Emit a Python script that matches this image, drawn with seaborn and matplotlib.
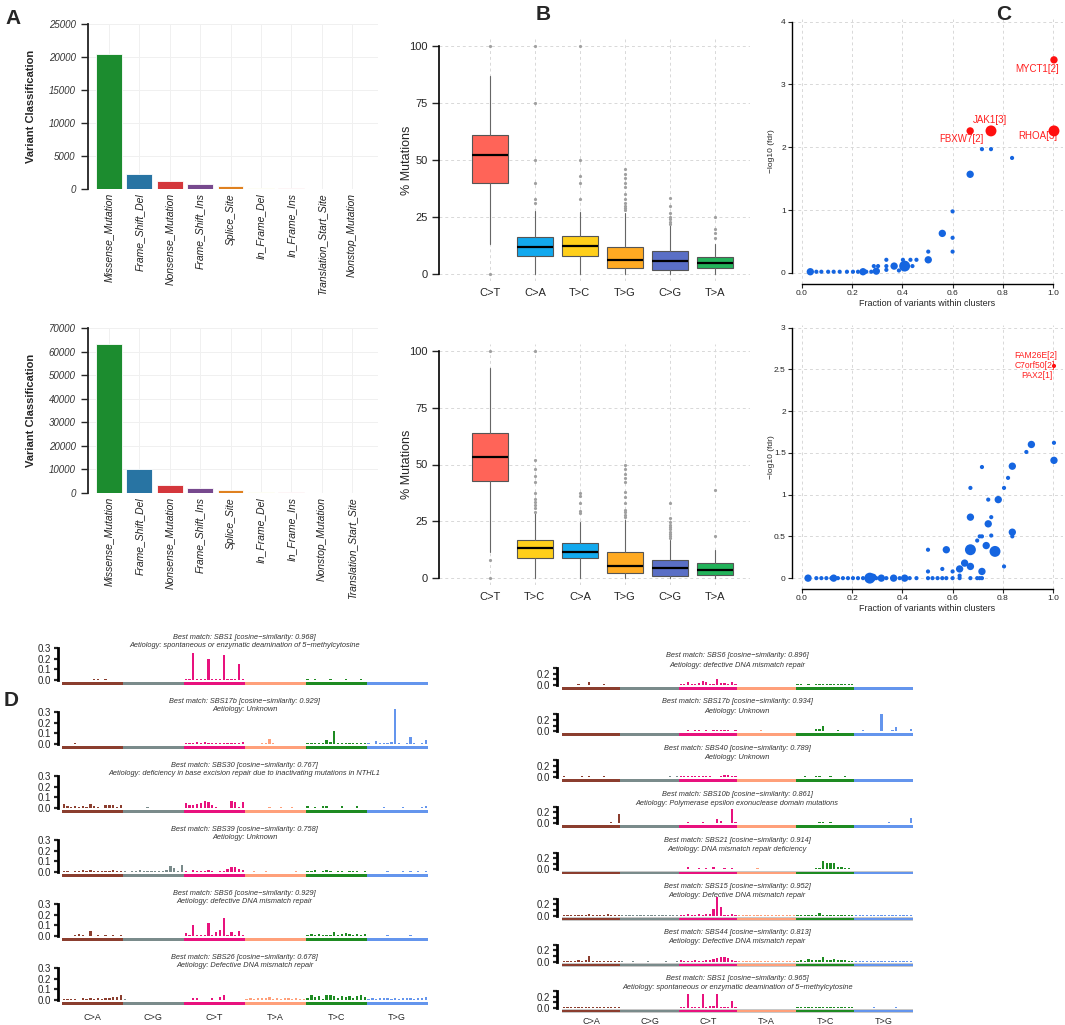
import numpy as np
import matplotlib
matplotlib.use("Agg")
import matplotlib.pyplot as plt
import seaborn as sns

W, H = 1065, 1025

# ---------------- Panel A : variant classification counts ----------------
var_names_top = ["Missense_Mutation", "Frame_Shift_Del", "Nonsense_Mutation", "Frame_Shift_Ins",
                 "Splice_Site", "In_Frame_Del", "In_Frame_Ins", "Translation_Start_Site", "Nonstop_Mutation"]
var_counts_top = [20400, 2300, 1150, 720, 420, 90, 140, 60, 25]
var_colors_top = ["#0a9e23", "#1379b8", "#ee1d23", "#7b3d99", "#ff8200", "#ffff70", "#f88090", "#f9cbb8", "#ece4e4"]

var_names_bot = ["Missense_Mutation", "Frame_Shift_Del", "Nonsense_Mutation", "Frame_Shift_Ins",
                 "Splice_Site", "In_Frame_Del", "In_Frame_Ins", "Nonstop_Mutation", "Translation_Start_Site"]
var_counts_bot = [63200, 10200, 3300, 2200, 1300, 320, 260, 120, 100]
var_colors_bot = ["#0a9e23", "#1379b8", "#ee1d23", "#7b3d99", "#ff8200", "#ffff70", "#f88090", "#c8dcef", "#f4a0a0"]

# ---------------- Panel B : mutation spectra boxplots ----------------
snv_top = ["C>T", "C>A", "T>C", "T>G", "C>G", "T>A"]
q1_top = [40, 7.9, 8, 2.8, 1.8, 2.5]
med_top = [52, 11.7, 12.3, 6.4, 5.7, 5.1]
q3_top = [61, 16.4, 16.7, 12, 10.1, 7.6]
lo_top = [13, 0, 0, 0, 0, 0]
hi_top = [87, 27.6, 27.3, 27, 21.5, 13]
fl_top = [[0, 100],
          [31, 33, 40, 50, 75, 100],
          [33, 40, 43, 50, 100],
          [28, 29, 30, 31, 33, 35, 38, 40, 42, 44, 46],
          [22, 23, 24, 25, 26.6, 29.8, 33.2],
          [16, 18, 19.7, 25]]
box_colors_top = ["#ff6458", "#12a9ee", "#ffcf1a", "#ffaa22", "#5a6fc6", "#22b35a"]

snv_bot = ["C>T", "T>C", "C>A", "T>G", "C>G", "T>A"]
q1_bot = [42.7, 8.7, 8.7, 2.3, 0.9, 1.6]
med_bot = [53.2, 13.1, 11.6, 5.3, 4.3, 3.8]
q3_bot = [64, 17, 15.3, 11.6, 7.9, 6.5]
lo_bot = [11.6, 0, 0, 0, 0, 0]
hi_bot = [92.4, 28.5, 24.8, 25.6, 16.7, 12.6]
fl_bot = [[0, 8.2, 100],
          [29.2, 30.7, 32.2, 33.6, 34.8, 37.3, 42.4, 45, 48, 52, 100],
          [28.6, 29.6, 32.9, 36, 37.3],
          [27, 28, 29, 30, 32.9, 35.8, 38, 42.4, 44, 46, 48, 50],
          [17.6, 18.5, 19.5, 20.5, 21.5, 22.5, 23.5, 24.5, 26.4, 33.2],
          [18.5, 38.8]]
box_colors_bot = ["#ff6458", "#ffcf1a", "#12a9ee", "#ffaa22", "#5a6fc6", "#22b35a"]

# ---------------- Panel C : oncodrive clusters ----------------
cx_top = [0.033, 0.057, 0.077, 0.104, 0.126, 0.150, 0.179, 0.203, 0.223, 0.243, 0.256, 0.276, 0.296,
          0.286, 0.303, 0.336, 0.336, 0.336, 0.367, 0.386, 0.409, 0.402, 0.432, 0.456, 0.44,
          0.503, 0.503, 0.559, 0.60, 0.60, 0.60, 0.67, 0.717, 0.753, 0.837]
cy_top = [0.02, 0.02, 0.02, 0.02, 0.02, 0.02, 0.02, 0.02, 0.02, 0.02, 0.02, 0.02, 0.03,
          0.11, 0.11, 0.21, 0.11, 0.05, 0.11, 0.04, 0.11, 0.21, 0.21, 0.21, 0.11,
          0.21, 0.34, 0.63, 0.34, 0.56, 0.98, 1.57, 1.97, 1.97, 1.83]
cs_top = [2, 1, 1, 1, 1, 1, 1, 1, 1, 2, 1, 1, 2,
          1, 1, 1, 1, 1, 2, 1, 3, 1, 1, 1, 1,
          2, 1, 2, 1, 1, 1, 2, 1, 1, 1]
hx_top = [0.67, 0.753, 1.004, 1.004]
hy_top = [2.26, 2.26, 3.39, 2.26]
hs_top = [2, 3, 2, 3]
hit_labels_top = ["FBXW7[2]", "JAK1[3]", "MYCT1[2]", "RHOA[3]"]
lab_x_top = [0.635, 0.748, 0.937, 0.94]
lab_y_top = [2.13, 2.44, 3.24, 2.18]

cx_bot = [0.024, 0.057, 0.077, 0.097, 0.117, 0.126, 0.143, 0.163, 0.183, 0.203, 0.223, 0.243, 0.27, 0.283,
          0.296, 0.316, 0.336, 0.365, 0.389, 0.409, 0.429, 0.456, 0.502, 0.502, 0.502, 0.52, 0.54, 0.559,
          0.575, 0.559, 0.575, 0.6, 0.6, 0.628, 0.628, 0.628, 0.648, 0.671, 0.671, 0.671, 0.671, 0.671,
          0.698, 0.708, 0.717, 0.698, 0.708, 0.717, 0.734, 0.717, 0.717, 0.742, 0.742, 0.754, 0.754,
          0.769, 0.782, 0.805, 0.805, 0.821, 0.838, 0.838, 0.838, 0.894, 0.914, 1.004, 1.004]
cy_bot = [0, 0, 0, 0, 0, 0, 0, 0, 0, 0, 0, 0, 0, 0.01,
          0, 0, 0, 0, 0, 0, 0, 0, 0, 0.08, 0.34, 0, 0, 0,
          0, 0.11, 0.34, 0.08, 0, 0, 0.03, 0.11, 0.18, 0.14, 0.34, 0.73, 1.08, 0,
          0, 0, 0, 0.45, 0.5, 0.5, 0.39, 0.08, 1.33, 0.65, 0.94, 0.73, 0.51,
          0.32, 0.94, 1.08, 0.14, 1.2, 1.34, 0.55, 0.5, 1.51, 1.6, 1.62, 1.41]
cs_bot = [2, 1, 1, 1, 1, 2, 1, 1, 1, 1, 1, 1, 3, 2,
          1, 2, 1, 2, 1, 2, 1, 1, 1, 1, 1, 1, 1, 1,
          1, 1, 2, 1, 1, 1, 1, 2, 2, 2, 3, 2, 1, 1,
          1, 1, 1, 1, 1, 1, 2, 2, 1, 2, 1, 1, 1,
          3, 2, 1, 1, 1, 2, 2, 1, 1, 2, 1, 2]
hx_bot = [1.004]
hy_bot = [2.54]
hs_bot = [1]
hit_labels_bot = ["FAM26E[2]", "C7orf50[2]", "PAX2[1]"]
lab_x_bot = [0.931, 0.927, 0.934]
lab_y_bot = [2.67, 2.54, 2.42]

# ---------------- Panel D : signatures (values x 1000) ----------------
sbs_classes = ["C>A", "C>G", "C>T", "T>A", "T>C", "T>G"]
sbs_colors = ["#8b3e2f", "#7a8b8b", "#e8127e", "#ffa07a", "#1e8b22", "#6495ed"]

left_titles = ["Best match: SBS1 [cosine\u2212similarity: 0.968]", "Best match: SBS17b [cosine\u2212similarity: 0.929]",
               "Best match: SBS30 [cosine\u2212similarity: 0.767]", "Best match: SBS39 [cosine\u2212similarity: 0.758]",
               "Best match: SBS6 [cosine\u2212similarity: 0.929]", "Best match: SBS26 [cosine\u2212similarity: 0.678]"]
left_aetiology = ["Aetiology: spontaneous or enzymatic deamination of 5\u2212methylcytosine", "Aetiology: Unknown",
                  "Aetiology: deficiency in base excision repair due to inactivating mutations in NTHL1",
                  "Aetiology: Unknown", "Aetiology: defective DNA mismatch repair",
                  "Aetiology: Defective DNA mismatch repair"]
right_titles = ["Best match: SBS6 [cosine\u2212similarity: 0.896]", "Best match: SBS17b [cosine\u2212similarity: 0.934]",
                "Best match: SBS40 [cosine\u2212similarity: 0.789]", "Best match: SBS10b [cosine\u2212similarity: 0.861]",
                "Best match: SBS21 [cosine\u2212similarity: 0.914]", "Best match: SBS15 [cosine\u2212similarity: 0.952]",
                "Best match: SBS44 [cosine\u2212similarity: 0.813]", "Best match: SBS1 [cosine\u2212similarity: 0.965]"]
right_aetiology = ["Aetiology: defective DNA mismatch repair", "Aetiology: Unknown", "Aetiology: Unknown",
                   "Aetiology: Polymerase epsilon exonuclease domain mutations",
                   "Aetiology: DNA mismatch repair deficiency", "Aetiology: Defective DNA mismatch repair",
                   "Aetiology: Defective DNA mismatch repair",
                   "Aetiology: spontaneous or enzymatic deamination of 5\u2212methylcytosine"]

left_sbs1 = [3, 2, 2, 3, 2, 2, 1, 3, 5, 8, 3, 6, 3, 2, 1, 3,
             2, 1, 1, 2, 1, 1, 1, 2, 1, 1, 1, 1, 2, 1, 1, 2,
             10, 5, 250, 8, 6, 5, 200, 8, 8, 5, 230, 10, 5, 5, 150, 8,
             2, 1, 1, 2, 1, 1, 1, 2, 1, 1, 1, 1, 2, 1, 1, 2,
             5, 3, 8, 4, 3, 3, 5, 4, 4, 3, 8, 4, 3, 3, 5, 3,
             1, 1, 1, 1, 1, 1, 1, 1, 1, 1, 1, 1, 1, 1, 1, 1]
left_sbs17b = [2, 1, 1, 5, 1, 1, 1, 3, 1, 1, 1, 2, 3, 4, 2, 3,
               2, 1, 1, 2, 1, 1, 1, 2, 1, 1, 1, 1, 2, 1, 1, 2,
               8, 5, 10, 15, 6, 20, 8, 10, 12, 8, 10, 8, 6, 10, 8, 15,
               2, 1, 1, 2, 8, 10, 45, 8, 2, 1, 1, 2, 3, 2, 1, 2,
               5, 8, 6, 10, 5, 40, 20, 125, 8, 10, 8, 12, 5, 8, 6, 5,
               5, 3, 25, 10, 8, 10, 15, 340, 5, 3, 8, 65, 5, 3, 8, 35]
left_sbs30 = [35, 15, 12, 15, 8, 20, 5, 35, 15, 10, 3, 30, 25, 25, 10, 25,
              3, 2, 2, 3, 2, 2, 5, 3, 2, 3, 2, 3, 2, 3, 3, 2,
              50, 30, 25, 35, 50, 70, 60, 30, 12, 3, 3, 3, 70, 60, 5, 60,
              3, 2, 2, 3, 2, 2, 5, 3, 3, 5, 3, 3, 5, 3, 3, 2,
              20, 3, 5, 2, 15, 15, 3, 2, 3, 15, 3, 3, 2, 15, 3, 2,
              3, 2, 2, 3, 5, 3, 2, 3, 2, 8, 3, 3, 2, 3, 5, 15]
left_sbs39 = [10, 5, 3, 8, 5, 15, 8, 20, 5, 10, 5, 12, 8, 15, 5, 10,
              5, 3, 10, 5, 15, 8, 5, 10, 12, 5, 8, 15, 55, 40, 10, 70,
              5, 3, 15, 5, 10, 8, 15, 5, 3, 10, 10, 30, 50, 45, 30, 20,
              3, 2, 5, 3, 2, 5, 3, 3, 2, 3, 2, 3, 2, 5, 3, 2,
              10, 5, 15, 3, 8, 20, 5, 3, 5, 8, 3, 10, 5, 8, 3, 5,
              3, 2, 2, 3, 2, 5, 3, 2, 3, 5, 2, 8, 3, 5, 2, 8]
left_sbs6 = [3, 2, 2, 10, 20, 5, 3, 50, 3, 8, 2, 5, 3, 5, 2, 5,
             2, 1, 1, 2, 1, 1, 1, 2, 1, 1, 1, 1, 2, 1, 1, 2,
             25, 5, 105, 5, 8, 5, 120, 5, 40, 60, 170, 5, 40, 5, 50, 5,
             2, 1, 1, 2, 1, 1, 1, 2, 1, 1, 1, 1, 2, 1, 1, 2,
             10, 15, 8, 20, 5, 10, 10, 35, 10, 20, 25, 15, 10, 15, 10, 15,
             2, 2, 3, 2, 2, 5, 3, 2, 2, 3, 2, 5, 2, 3, 2, 2]
left_sbs26 = [10, 5, 12, 5, 3, 15, 5, 15, 10, 15, 12, 20, 15, 25, 30, 50,
              8, 2, 3, 2, 2, 3, 2, 3, 2, 3, 2, 3, 2, 3, 2, 3,
              3, 2, 20, 15, 3, 2, 3, 20, 3, 30, 50, 3, 3, 3, 3, 3,
              10, 15, 10, 15, 20, 15, 30, 12, 15, 10, 15, 15, 10, 20, 10, 5,
              20, 50, 30, 40, 10, 45, 50, 40, 20, 35, 25, 40, 20, 35, 45, 25,
              10, 15, 10, 20, 15, 20, 10, 15, 5, 20, 15, 20, 10, 15, 20, 25]

right_sbs6 = [3, 2, 5, 3, 15, 5, 3, 50, 5, 8, 3, 10, 3, 5, 3, 5,
              2, 1, 1, 2, 1, 1, 1, 2, 1, 1, 1, 1, 2, 1, 1, 2,
              20, 15, 60, 20, 15, 30, 80, 60, 20, 10, 100, 40, 30, 10, 50, 20,
              3, 2, 2, 3, 2, 2, 3, 2, 2, 3, 2, 2, 3, 2, 2, 3,
              10, 15, 8, 20, 5, 10, 10, 25, 10, 20, 20, 15, 10, 15, 10, 15,
              2, 2, 3, 2, 2, 5, 3, 2, 2, 3, 2, 5, 2, 3, 2, 2]
right_sbs17b = [3, 2, 2, 3, 2, 2, 3, 2, 2, 3, 2, 2, 3, 2, 2, 3,
                2, 1, 1, 2, 1, 1, 1, 2, 1, 1, 1, 1, 2, 1, 1, 2,
                10, 8, 15, 10, 12, 15, 10, 12, 10, 15, 20, 15, 12, 15, 10, 15,
                3, 2, 3, 5, 8, 10, 25, 8, 3, 2, 3, 5, 3, 2, 3, 3,
                5, 8, 5, 10, 5, 40, 35, 100, 5, 10, 8, 15, 5, 8, 10, 5,
                3, 2, 25, 10, 8, 10, 5, 300, 5, 3, 15, 70, 5, 3, 10, 45]
right_sbs40 = [15, 10, 12, 8, 5, 20, 10, 15, 10, 12, 8, 15, 10, 12, 8, 10,
               8, 10, 12, 8, 10, 12, 8, 10, 12, 8, 10, 12, 8, 15, 10, 20,
               25, 20, 30, 25, 20, 30, 25, 20, 15, 10, 12, 15, 40, 35, 25, 30,
               8, 10, 8, 10, 8, 10, 8, 10, 8, 10, 8, 10, 8, 10, 8, 10,
               10, 12, 15, 10, 12, 20, 15, 12, 10, 15, 12, 10, 12, 15, 10, 12,
               8, 10, 8, 12, 8, 10, 12, 8, 10, 8, 12, 8, 10, 8, 12, 10]
right_sbs10b = [5, 3, 3, 5, 3, 3, 3, 10, 5, 3, 3, 5, 8, 25, 5, 170,
                2, 1, 1, 2, 1, 1, 1, 2, 1, 1, 1, 1, 2, 1, 1, 2,
                5, 3, 20, 5, 3, 3, 25, 5, 5, 3, 75, 50, 5, 3, 250, 20,
                3, 2, 2, 3, 2, 2, 3, 2, 2, 3, 2, 2, 3, 2, 2, 3,
                5, 8, 5, 10, 5, 8, 15, 20, 10, 15, 8, 10, 5, 8, 5, 5,
                5, 3, 5, 8, 3, 5, 8, 3, 5, 15, 5, 3, 5, 8, 10, 100]
right_sbs21 = [5, 3, 5, 3, 5, 3, 5, 3, 5, 3, 5, 3, 5, 3, 5, 3,
               2, 1, 1, 2, 1, 1, 1, 2, 1, 1, 1, 1, 2, 1, 1, 2,
               10, 15, 40, 10, 15, 20, 15, 25, 10, 40, 15, 10, 20, 15, 25, 10,
               8, 5, 10, 5, 8, 20, 5, 8, 5, 10, 5, 5, 8, 5, 5, 5,
               15, 12, 10, 15, 10, 25, 20, 150, 110, 120, 110, 50, 40, 30, 20, 15,
               3, 2, 3, 2, 3, 2, 3, 2, 3, 2, 3, 2, 3, 2, 3, 2]
right_sbs15 = [3, 5, 10, 5, 3, 15, 5, 20, 3, 10, 8, 5, 20, 3, 5, 3,
               2, 1, 1, 2, 1, 1, 1, 2, 1, 1, 1, 1, 2, 1, 1, 2,
               10, 15, 35, 10, 8, 20, 10, 30, 30, 120, 350, 150, 10, 15, 20, 10,
               3, 8, 3, 5, 3, 5, 3, 12, 3, 5, 3, 5, 3, 5, 3, 5,
               5, 8, 5, 10, 5, 8, 40, 15, 8, 5, 8, 10, 5, 8, 5, 5,
               5, 3, 5, 8, 3, 5, 8, 3, 5, 12, 5, 3, 5, 8, 10, 5]
right_sbs44 = [3, 2, 3, 5, 20, 10, 30, 100, 5, 10, 3, 5, 3, 5, 3, 5,
               2, 1, 1, 2, 1, 1, 1, 2, 1, 1, 1, 1, 2, 1, 1, 2,
               20, 15, 10, 15, 20, 10, 15, 20, 30, 40, 60, 90, 80, 60, 25, 15,
               3, 2, 2, 3, 2, 2, 3, 2, 2, 3, 2, 2, 3, 2, 2, 3,
               10, 20, 15, 50, 20, 30, 25, 90, 30, 20, 40, 25, 20, 20, 15, 15,
               3, 2, 3, 2, 3, 2, 15, 10, 3, 2, 3, 2, 3, 2, 3, 2]
right_sbs1 = [10, 5, 8, 5, 10, 15, 8, 12, 5, 10, 8, 5, 8, 5, 8, 5,
              2, 1, 1, 2, 1, 1, 1, 2, 1, 1, 1, 1, 2, 1, 1, 2,
              20, 20, 250, 15, 10, 20, 250, 20, 30, 25, 250, 20, 15, 15, 120, 10,
              3, 2, 2, 3, 2, 2, 3, 2, 2, 3, 2, 2, 3, 2, 2, 3,
              10, 15, 12, 20, 10, 15, 10, 20, 10, 15, 12, 10, 8, 10, 8, 10,
              2, 2, 3, 2, 2, 5, 3, 2, 2, 3, 2, 5, 2, 3, 2, 2]

left_sigs = [left_sbs1, left_sbs17b, left_sbs30, left_sbs39, left_sbs6, left_sbs26]
right_sigs = [right_sbs6, right_sbs17b, right_sbs40, right_sbs10b, right_sbs21, right_sbs15, right_sbs44, right_sbs1]

# ---------------------------------------------------------------------------
sns.set_style("white")
plt.rcParams["font.family"] = ["Liberation Sans", "DejaVu Sans"]
plt.rcParams["axes.unicode_minus"] = True

fig = plt.figure(figsize=(W / 100, H / 100), dpi=100)


def px_axes(left, top, right, bottom):
    return fig.add_axes([left / W, 1 - bottom / H, (right - left) / W, (bottom - top) / H])


def panel_a(ax, names, counts, colors, ymax, step):
    sns.barplot(x=names, y=counts, hue=names, palette=dict(zip(names, colors)), legend=False,
                ax=ax, width=0.85, edgecolor="white", linewidth=0.6, zorder=3)
    ax.set_xlim(-0.69, 8.85)
    ax.set_ylim(0, ymax)
    ax.set_axisbelow(True)
    ax.grid(True, color="#f0f0f0", lw=0.7)
    for s in ["top", "right", "bottom"]:
        ax.spines[s].set_visible(False)
    ax.spines["left"].set_linewidth(1.3)
    ax.spines["left"].set_color("#222222")
    ax.set_yticks(np.arange(0, ymax + 1, step))
    ax.tick_params(axis="y", left=True, length=5, width=1, pad=4, labelsize=7, labelcolor="#333333")
    ax.tick_params(axis="x", length=0, pad=3, labelsize=7.5, labelcolor="#222222")
    for t in ax.get_yticklabels():
        t.set_style("italic")
    for t in ax.get_xticklabels():
        t.set_rotation(90)
        t.set_style("italic")
    ax.set_xlabel("")
    ax.set_ylabel("Variant Classification", fontsize=8, fontweight="bold")
    ax.yaxis.set_label_coords(-0.181, 0.5)


ax = px_axes(88, 24, 378, 189)
panel_a(ax, var_names_top, var_counts_top, var_colors_top, 25000, 5000)
ax = px_axes(88, 328, 378, 493)
panel_a(ax, var_names_bot, var_counts_bot, var_colors_bot, 70000, 10000)


def panel_b(ax, labels, q1, med, q3, lo, hi, fl, colors):
    stats = [dict(label=l, q1=a, med=m, q3=c, whislo=d, whishi=e, fliers=f)
             for l, a, m, c, d, e, f in zip(labels, q1, med, q3, lo, hi, fl)]
    bp = ax.bxp(stats, positions=np.arange(len(labels)), widths=0.8, patch_artist=True, showcaps=False,
                boxprops=dict(edgecolor="#555555", linewidth=0.8),
                medianprops=dict(color="black", linewidth=1.6),
                whiskerprops=dict(color="#666666", linewidth=0.8),
                flierprops=dict(marker="o", markersize=2.3, markerfacecolor="#a0a0a0",
                                markeredgecolor="none"))
    for patch, c in zip(bp["boxes"], colors):
        patch.set_facecolor(c)
    ax.set_xlim(-1.13, 5.78)
    ax.set_ylim(-3, 103)
    ax.set_yticks([0, 25, 50, 75, 100])
    ax.set_xticks(np.arange(len(labels)))
    ax.set_xticklabels(labels)
    ax.grid(True, color="#d8d8d8", lw=0.7, ls=(0, (3, 3)))
    ax.set_axisbelow(True)
    for s in ["top", "right", "bottom"]:
        ax.spines[s].set_visible(False)
    ax.spines["left"].set_bounds(0, 100)
    ax.spines["left"].set_linewidth(1.2)
    ax.spines["left"].set_color("black")
    ax.tick_params(axis="y", left=True, length=5, width=1, pad=3, labelsize=8)
    ax.tick_params(axis="x", length=0, pad=5, labelsize=8)
    ax.set_ylabel("% Mutations", fontsize=9)
    ax.yaxis.set_label_coords(-0.084, 0.5)


ax = px_axes(439, 39, 750, 281)
panel_b(ax, snv_top, q1_top, med_top, q3_top, lo_top, hi_top, fl_top, box_colors_top)
ax = px_axes(439, 344, 750, 585)
panel_b(ax, snv_bot, q1_bot, med_bot, q3_bot, lo_bot, hi_bot, fl_bot, box_colors_bot)


def panel_c(ax, x, y, s, hx, hy, hs, labs, lx, ly, ymax, yticks, yticklabels, ybottom, lab_size):
    size_map = {1: 9, 2: 28, 3: 62}
    sns.scatterplot(x=x, y=y, size=s, sizes=size_map, color="#1565e0", edgecolor="none",
                    legend=False, ax=ax, zorder=3)
    sns.scatterplot(x=hx, y=hy, size=hs, sizes=size_map, color="#ff1010", edgecolor="none",
                    legend=False, ax=ax, zorder=4)
    for t, a, b in zip(labs, lx, ly):
        ax.text(a, b, t, color="#ff2020", fontsize=lab_size, ha="center", va="center")
    ax.set_xlim(-0.04, 1.04)
    ax.set_ylim(ybottom, ymax * 1.01)
    ax.set_xticks([0, 0.2, 0.4, 0.6, 0.8, 1.0])
    ax.set_xticklabels(["0.0", "0.2", "0.4", "0.6", "0.8", "1.0"])
    ax.set_yticks(yticks)
    ax.set_yticklabels(yticklabels)
    ax.grid(True, color="#d8d8d8", lw=0.7, ls=(0, (3, 3)))
    ax.set_axisbelow(True)
    for sp in ["top", "right"]:
        ax.spines[sp].set_visible(False)
    ax.spines["left"].set_bounds(0, ymax)
    ax.spines["bottom"].set_bounds(0, 1)
    for sp in ["left", "bottom"]:
        ax.spines[sp].set_linewidth(1.0)
        ax.spines[sp].set_color("black")
    ax.tick_params(left=True, bottom=True, length=3, width=0.8, pad=1.5, labelsize=6)
    ax.set_xlabel("Fraction of variants within clusters", fontsize=6.5, labelpad=1)
    ax.set_ylabel("\u2212log10 (fdr)", fontsize=6)
    ax.yaxis.set_label_coords(-0.062, 0.5)


ax = px_axes(792, 19, 1063, 284)
panel_c(ax, cx_top, cy_top, cs_top, hx_top, hy_top, hs_top, hit_labels_top, lab_x_top, lab_y_top,
        4, [0, 1, 2, 3, 4], ["0", "1", "2", "3", "4"], -0.175, 7)
ax = px_axes(792, 325, 1063, 589)
panel_c(ax, cx_bot, cy_bot, cs_bot, hx_bot, hy_bot, hs_bot, hit_labels_bot, lab_x_bot, lab_y_bot,
        3, [0, 0.5, 1, 1.5, 2, 2.5, 3], ["0", "0.5", "1", "1.5", "2", "2.5", "3"], -0.13, 6.2)


def panel_d(ax, vals, title, aet, xlo, ylo, strip, t1, t2, tick_labels, show_classes, cls_y):
    vals = np.array(vals) / 1000.0
    pos = np.arange(96)
    bar_cols = np.repeat(sbs_colors, 16)
    ax.bar(pos, vals, width=0.6, color=bar_cols, linewidth=0)
    # class strip under the bars
    ax.bar([47.5], [strip[1]], bottom=strip[0], width=96, color="#c8c8c8", linewidth=0)
    ax.bar(np.arange(6) * 16 + 7.5, [strip[3]] * 6, bottom=strip[2], width=16,
           color=sbs_colors, linewidth=0)
    ax.set_xlim(xlo, 95.6)
    ax.set_ylim(ylo, 0.33)
    for sp in ["top", "right", "bottom"]:
        ax.spines[sp].set_visible(False)
    ax.spines["left"].set_bounds(0, 0.3)
    ax.spines["left"].set_linewidth(2)
    ax.spines["left"].set_color("black")
    ax.set_yticks([0, 0.1, 0.2, 0.3])
    ax.set_yticklabels(tick_labels)
    ax.tick_params(axis="y", left=True, length=3, width=1.6, pad=2, labelsize=7)
    ax.set_xticks([])
    ax.text(47.5, t1, title, fontsize=5.3, style="italic", color="#333333", ha="center", va="center",
            clip_on=False)
    ax.text(47.5, t2, aet, fontsize=5.3, style="italic", color="#333333", ha="center", va="center",
            clip_on=False)
    if show_classes:
        for k, c in enumerate(sbs_classes):
            ax.text(k * 16 + 7.5, cls_y, c, fontsize=6.5, ha="center", va="center", clip_on=False)


# left column: 0.3 -> 32 px
for i in range(6):
    y0 = 680 + 64 * i
    ppu = 107.0
    ax = px_axes(58, y0 - 0.33 * ppu, 428, y0 + 0.06 * ppu)
    panel_d(ax, left_sigs[i], left_titles[i], left_aetiology[i], -1.5, -0.06,
            (-0.05, 0.032, -0.046, 0.024), 0.40, 0.327, ["0.0", "0.1", "0.2", "0.3"], i == 5, -0.168)

# right column: 0.3 -> 17 px
for i in range(8):
    y0 = 685 + 46.1 * i
    ppu = 56.0
    ax = px_axes(557, y0 - 0.33 * ppu, 913, y0 + 0.11 * ppu)
    panel_d(ax, right_sigs[i], right_titles[i], right_aetiology[i], -1.87, -0.11,
            (-0.09, 0.06, -0.083, 0.045), 0.52, 0.355, ["0.0", "", "0.2", ""], i == 7, -0.24)

for lab, x, y in [("A", 5, 18), ("B", 536, 15), ("C", 996, 14), ("D", 4, 700)]:
    fig.text(x / W, 1 - y / H, lab, fontsize=15, fontweight="bold", va="center", ha="left")

fig.savefig("out.png", dpi=100)
